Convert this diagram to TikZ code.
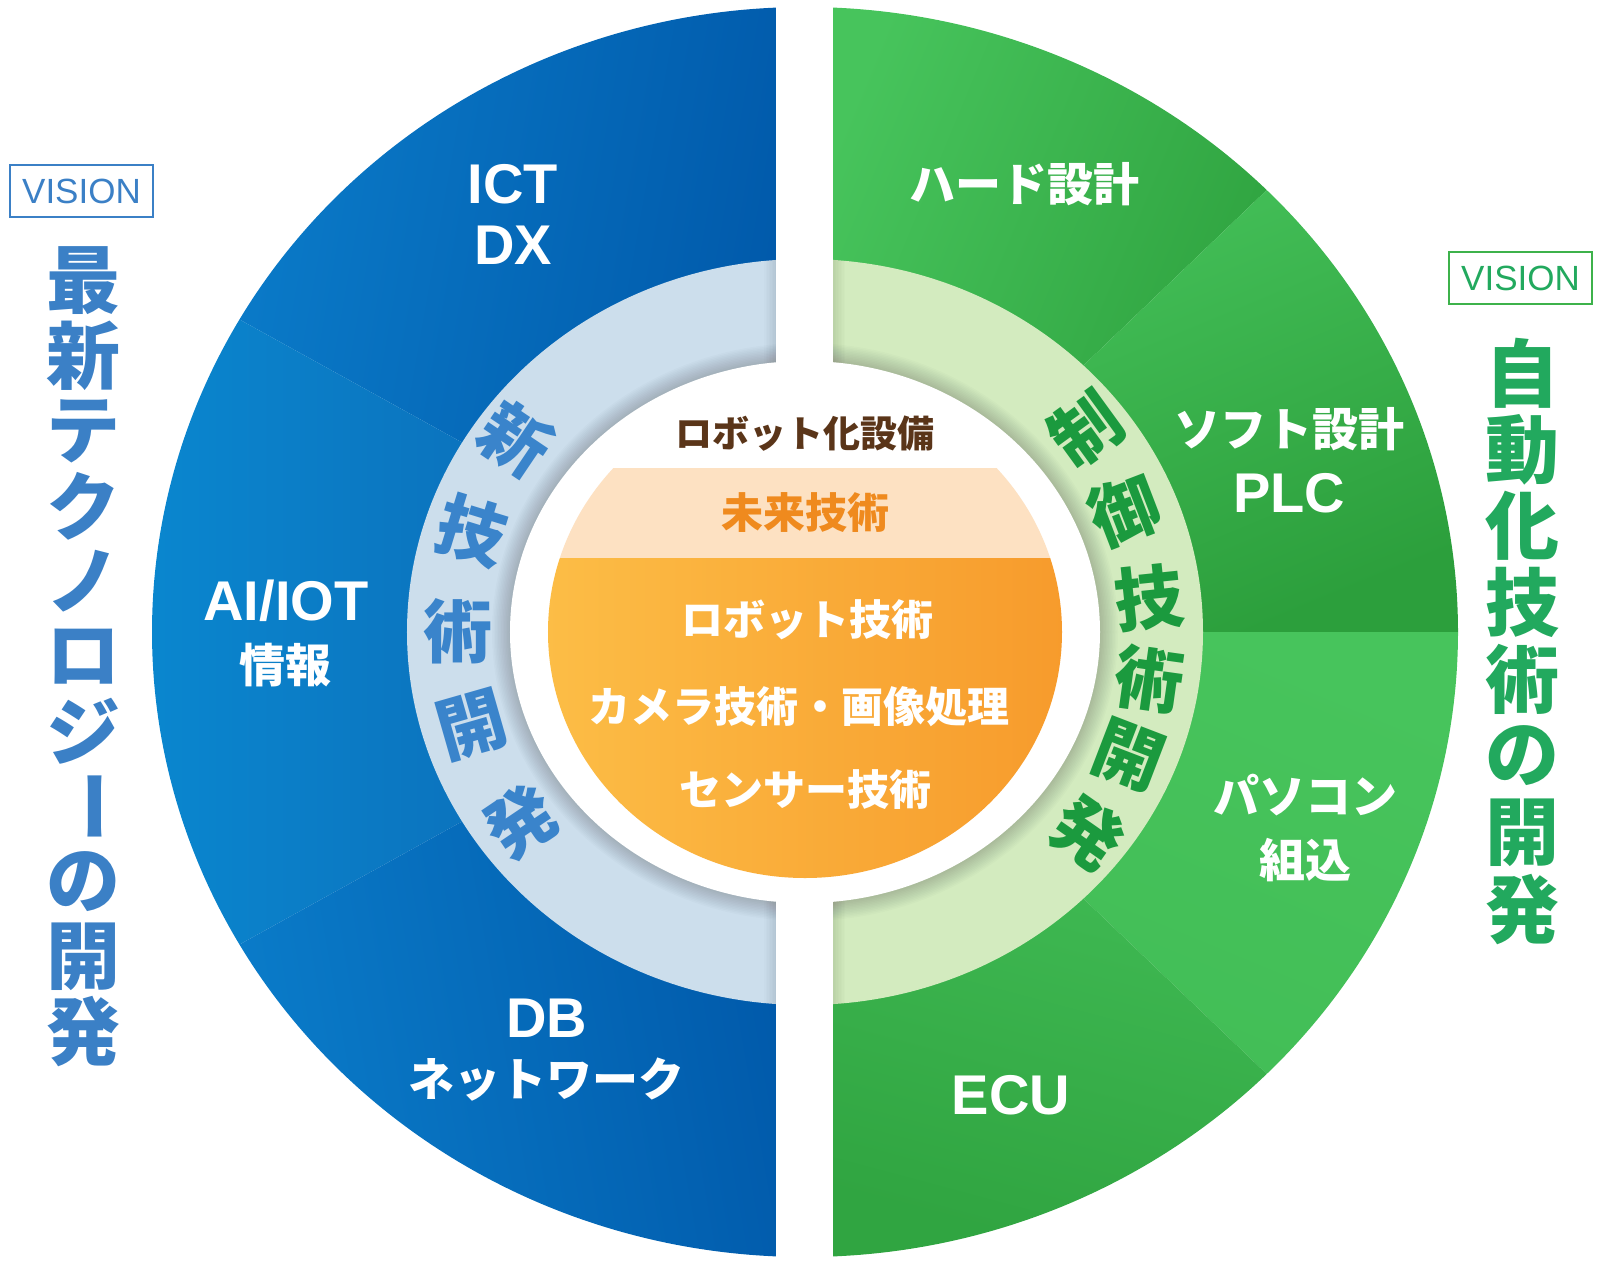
\documentclass[tikz,border=0pt]{standalone}
\usepackage{fontspec}
\setmainfont{Liberation Sans}
\newfontfamily\jp{Noto Sans CJK JP}
\usetikzlibrary{positioning}

\definecolor{bluedark}{HTML}{0057A8}
\definecolor{bluemid}{HTML}{0A7AC8}
\definecolor{bluelite}{HTML}{0A88D0}
\definecolor{greendark}{HTML}{2C9F3C}
\definecolor{greenlite}{HTML}{47C45C}
\definecolor{ringblue}{HTML}{CCDEEC}
\definecolor{ringgreen}{HTML}{D3EBBF}
\definecolor{peach}{HTML}{FDE1C2}
\definecolor{orlite}{HTML}{FCBD46}
\definecolor{ordark}{HTML}{F79B2C}
\definecolor{futureor}{HTML}{EF8A1E}
\definecolor{brownt}{HTML}{5A3519}
\definecolor{titleblue}{HTML}{3B80C6}
\definecolor{titlegreen}{HTML}{22A95E}
\definecolor{visgreen}{HTML}{3DB24B}
\definecolor{ringtxtb}{HTML}{3A84CB}
\definecolor{ringtxtg}{HTML}{1B9A3E}

\tikzset{
  seglbl/.style={text=white, inner sep=0pt, font=\bfseries\fontsize{56}{56}\selectfont},
  segjp/.style={text=white, inner sep=0pt, font=\jp\bfseries\fontsize{46}{46}\selectfont},
  corejp/.style={text=white, inner sep=0pt, font=\jp\bfseries\fontsize{42}{42}\selectfont},
  ringch/.style={inner sep=0pt, font=\jp\bfseries\fontsize{69}{69}\selectfont},
  titlech/.style={inner sep=0pt, font=\jp\bfseries\fontsize{74}{74}\selectfont},
  visbox/.style={line width=1.6pt, minimum width=143, minimum height=52, inner sep=0pt,
    font=\fontsize{35}{35}\selectfont}
}

\begin{document}
\begin{tikzpicture}[x=1pt,y=1pt]
  \useasboundingbox (-805,-632) rectangle (797,632);

  % blue half, three slices
  \shade[top color=bluemid, bottom color=bluedark, shading angle=80]
    (0,0) -- (90:653 and 625) arc[start angle=90, end angle=150, x radius=653, y radius=625] -- cycle;
  \shade[top color=bluelite, bottom color=bluedark!95!white, shading angle=90]
    (0,0) -- (150:653 and 625) arc[start angle=150, end angle=210, x radius=653, y radius=625] -- cycle;
  \shade[top color=bluemid!90!bluelite, bottom color=bluedark, shading angle=100]
    (0,0) -- (210:653 and 625) arc[start angle=210, end angle=270, x radius=653, y radius=625] -- cycle;

  % green half, four slices
  \shade[top color=greenlite, bottom color=greendark, shading angle=67.5]
    (0,0) -- (90:653 and 625) arc[start angle=90, end angle=45, x radius=653, y radius=625] -- cycle;
  \shade[top color=greenlite, bottom color=greendark, shading angle=22.5]
    (0,0) -- (45:653 and 625) arc[start angle=45, end angle=0, x radius=653, y radius=625] -- cycle;
  \shade[top color=greenlite, bottom color=greenlite!80!greendark, shading angle=-22.5]
    (0,0) -- (0:653 and 625) arc[start angle=0, end angle=-45, x radius=653, y radius=625] -- cycle;
  \shade[top color=greenlite, bottom color=greendark!85!greenlite, shading angle=-15]
    (0,0) -- (-45:653 and 625) arc[start angle=-45, end angle=-90, x radius=653, y radius=625] -- cycle;

  % light ring
  \fill[ringblue] (0,0) -- (90:398 and 373) arc[start angle=90, end angle=270, x radius=398, y radius=373] -- cycle;
  \fill[ringgreen] (0,0) -- (90:398 and 373) arc[start angle=90, end angle=-90, x radius=398, y radius=373] -- cycle;

  % soft shadow of the white core and the gap
  \begin{scope}
    \clip (0,0) ellipse [x radius=398, y radius=373];
    \foreach \k in {1,...,12}
      \fill[black, opacity=0.014] (0,0) ellipse [x radius=295+1.5*\k, y radius=271+1.5*\k];
    \foreach \k in {1,...,8}
      \fill[black, opacity=0.01] (-29-1.5*\k,-400) rectangle (28+1.5*\k,400);
  \end{scope}
  \fill[white] (0,0) ellipse [x radius=295, y radius=271];
  \fill[white] (-29,-640) rectangle (28,640);

  % orange core
  \begin{scope}
    \clip (0,0) ellipse [x radius=257, y radius=246];
    \fill[peach] (-260,74) rectangle (260,164);
    \shade[left color=orlite, right color=ordark] (-260,-250) rectangle (260,74);
  \end{scope}

  % outer labels
  \node[seglbl] (ict) at (-292,448) {ICT};
  \node[seglbl] (dx) at (-292,387) {DX};
  \node[seglbl] (aiiot) at (-519,31) {AI/IOT};
  \node[segjp] (joho) at (-519,-33) {情報};
  \node[seglbl] (db) at (-258,-386) {DB};
  \node[segjp] (netw) at (-258,-448) {ネットワーク};
  \node[segjp] (hard) at (219,448) {ハード設計};
  \node[segjp] (soft) at (484,203) {ソフト設計};
  \node[seglbl] (plc) at (484,139) {PLC};
  \node[segjp] (pc) at (500,-163) {パソコン};
  \node[segjp] (kumi) at (500,-228) {組込};
  \node[seglbl] (ecu) at (206,-463) {ECU};

  % core labels
  \node[corejp, text=brownt, font=\jp\bfseries\fontsize{37}{37}\selectfont] (robset) at (0,198) {ロボット化設備};
  \node[corejp, text=futureor] (mirai) at (0,119) {未来技術};
  \node[corejp] (robtech) at (2,12) {ロボット技術};
  \node[corejp] (camera) at (-6,-75) {カメラ技術・画像処理};
  \node[corejp] (sensor) at (0,-158) {センサー技術};

  % ring lettering
  \foreach \c/\x/\y/\r [count=\i] in {新/-289/193/-34, 技/-333/101/-17, 術/-347/1/0, 開/-333/-93/16, 発/-284/-190/34}
    \node[ringch, text=ringtxtb, rotate=\r] (rb\i) at (\x,\y) {\c};
  \foreach \c/\x/\y/\r [count=\i] in {制/281/203/36, 御/319/121/21, 技/344/34/6, 術/344/-47/-8, 開/324/-124/-21, 発/283/-201/-35}
    \node[ringch, text=ringtxtg, rotate=\r] (rg\i) at (\x,\y) {\c};

  % side titles
  \node[visbox, draw=titleblue, text=titleblue] (visL) at (-723.5,441) {VISION};
  \foreach \c/\r [count=\i from 0] in {最/0, 新/0, テ/0, ク/0, ノ/0, ロ/0, ジ/0, ー/-90, の/0, 開/0, 発/0}
    \node[titlech, text=titleblue, rotate=\r] (tl\i) at (-721,351-75.1*\i) {\c};
  \node[visbox, draw=visgreen, text=titlegreen] (visR) at (715.5,354) {VISION};
  \foreach \c [count=\i from 0] in {自,動,化,技,術,の,開,発}
    \node[titlech, text=titlegreen] (tr\i) at (717,259-76.6*\i) {\c};
\end{tikzpicture}
\end{document}
